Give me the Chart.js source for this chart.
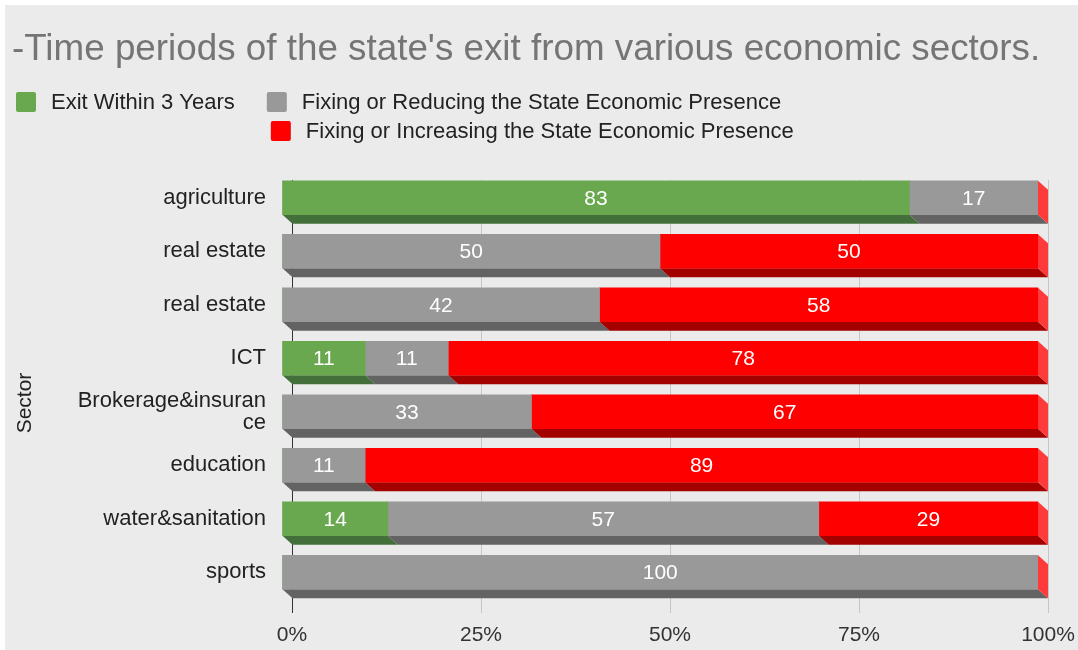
<!DOCTYPE html>
<html>
<head>
<meta charset="utf-8">
<script src="https://cdn.jsdelivr.net/npm/chart.js@4/dist/chart.umd.min.js"></script>
<style>
  html, body { margin: 0; padding: 0; background: #ffffff; overflow: hidden; }
  #wrap { width: 1078px; height: 650px; }
  canvas { display: block; }
</style>
</head>
<body>
<div id="wrap"><canvas id="c" width="1078" height="650"></canvas></div>
<script>
// ---- data ----
const titleText = "-Time periods of the state's exit from various economic sectors.";
const categories = ['agriculture', 'real estate', 'real estate', 'ICT', ['Brokerage&insuran', 'ce'], 'education', 'water&sanitation', 'sports'];
const seriesNames = ['Exit Within 3 Years', 'Fixing or Reducing the State Economic Presence', 'Fixing or Increasing the State Economic Presence'];
const exitWithin3 = [83, 0, 0, 11, 0, 0, 14, 0];
const fixingReducing = [17, 50, 42, 11, 33, 11, 57, 100];
const fixingIncreasing = [0, 50, 58, 78, 67, 89, 29, 0];
const xTickValues = [0, 25, 50, 75, 100];
const yAxisTitle = 'Sector';

// ---- styles ----
const frontColors = ['#6aa84f', '#999999', '#ff0000'];
const bottomColors = ['#43703a', '#636363', '#a30000'];
const sideColors = ['#8cc473', '#b5b5b5', '#ff3a3a'];
const DX = 10, DY = 9;
const FONT = '"Liberation Sans", Arial, sans-serif';

const bgPlugin = {
  id: 'bg',
  beforeDraw(chart) {
    const ctx = chart.ctx;
    ctx.save();
    ctx.fillStyle = '#ffffff';
    ctx.fillRect(0, 0, chart.width, chart.height);
    ctx.fillStyle = '#ebebeb';
    ctx.fillRect(5, 5, chart.width - 5, chart.height - 5);
    ctx.restore();
  }
};

const depthPlugin = {
  id: 'depth',
  beforeDatasetsDraw(chart) {
    const ctx = chart.ctx;
    const n = chart.data.datasets.length;
    ctx.save();
    for (let d = 0; d < n; d++) {
      const meta = chart.getDatasetMeta(d);
      meta.data.forEach((el, i) => {
        const v = chart.data.datasets[d].data[i];
        if (!v) return;
        const p = el.getProps(['x', 'y', 'base', 'height'], true);
        const xl = Math.min(p.x, p.base), xr = Math.max(p.x, p.base);
        const yb = p.y + p.height / 2;
        ctx.fillStyle = bottomColors[d];
        ctx.beginPath();
        ctx.moveTo(xl - DX, yb - DY);
        ctx.lineTo(xr - DX, yb - DY);
        ctx.lineTo(xr, yb);
        ctx.lineTo(xl, yb);
        ctx.closePath();
        ctx.fill();
      });
    }
    const lastMeta = chart.getDatasetMeta(n - 1);
    lastMeta.data.forEach((el) => {
      const p = el.getProps(['x', 'y', 'base', 'height'], true);
      const xr = Math.max(p.x, p.base);
      const yt = p.y - p.height / 2, yb = p.y + p.height / 2;
      ctx.fillStyle = sideColors[n - 1];
      ctx.beginPath();
      ctx.moveTo(xr - DX, yt - DY);
      ctx.lineTo(xr, yt);
      ctx.lineTo(xr, yb);
      ctx.lineTo(xr - DX, yb - DY);
      ctx.closePath();
      ctx.fill();
    });
    ctx.restore();
    ctx.save();
    ctx.translate(-DX, -DY);
  },
  afterDatasetsDraw(chart) {
    const ctx = chart.ctx;
    ctx.restore();
    ctx.save();
    ctx.fillStyle = '#ffffff';
    ctx.font = '21px ' + FONT;
    ctx.textAlign = 'center';
    ctx.textBaseline = 'middle';
    chart.data.datasets.forEach((ds, d) => {
      const meta = chart.getDatasetMeta(d);
      meta.data.forEach((el, i) => {
        const v = ds.data[i];
        if (!v) return;
        const p = el.getProps(['x', 'y', 'base'], true);
        ctx.fillText(String(v), (p.x + p.base) / 2 - DX, p.y - DY + 1);
      });
    });
    ctx.restore();
  }
};

const legendPlugin = {
  id: 'customLegend',
  afterDraw(chart) {
    const ctx = chart.ctx;
    const ds = chart.data.datasets;
    ctx.save();
    ctx.font = '22px ' + FONT;
    ctx.textBaseline = 'middle';
    ctx.textAlign = 'left';
    const box = 20, gap = 15;
    const drawItem = (i, x, y) => {
      ctx.fillStyle = ds[i].backgroundColor;
      ctx.beginPath();
      ctx.roundRect(x, y - box / 2, box, box, 2);
      ctx.fill();
      ctx.fillStyle = '#222222';
      ctx.fillText(ds[i].label, x + box + gap, y + 1);
      return x + box + gap + ctx.measureText(ds[i].label).width;
    };
    const row1 = 102, row2 = 131;
    const end1 = drawItem(0, 16, row1);
    const x2 = end1 + 32;
    drawItem(1, x2, row1);
    drawItem(2, x2 + 4, row2);

    // y-axis title
    const ca = chart.chartArea;
    ctx.translate(25, (ca.top + ca.bottom) / 2 + 9);
    ctx.rotate(-Math.PI / 2);
    ctx.font = '21px ' + FONT;
    ctx.textAlign = 'center';
    ctx.fillStyle = '#222222';
    ctx.fillText(yAxisTitle, 0, 0);
    ctx.restore();
  }
};

const datasets = [exitWithin3, fixingReducing, fixingIncreasing].map((arr, d) => ({
  label: seriesNames[d],
  data: arr,
  backgroundColor: frontColors[d],
  borderWidth: 0,
  barThickness: 34
}));

new Chart(document.getElementById('c'), {
  type: 'bar',
  data: { labels: categories, datasets },
  plugins: [bgPlugin, depthPlugin, legendPlugin],
  options: {
    indexAxis: 'y',
    responsive: false,
    animation: false,
    layout: { padding: { left: 12, right: 30, top: 0, bottom: 4 } },
    plugins: {
      legend: { display: false },
      tooltip: { enabled: false },
      title: {
        display: true,
        text: titleText,
        align: 'start',
        color: '#757575',
        font: { family: FONT, size: 36.8, weight: 'normal' },
        padding: { top: 28, bottom: 107.8 }
      }
    },
    scales: {
      x: {
        stacked: true,
        min: 0,
        max: 100,
        afterBuildTicks(scale) { scale.ticks = xTickValues.map(v => ({ value: v })); },
        afterFit(scale) { scale.height = 38; scale.paddingRight = 0; scale.paddingLeft = 0; },
        ticks: {
          callback: v => v + '%',
          color: '#333333',
          font: { family: FONT, size: 21 },
          padding: 10,
          maxRotation: 0
        },
        grid: {
          color: c => (c.tick && c.tick.value === 0) ? '#333333' : '#c6c6c6',
          lineWidth: 1,
          tickLength: 5,
          drawTicks: true
        },
        border: { display: false }
      },
      y: {
        stacked: true,
        afterFit(scale) { scale.width = 280; },
        ticks: {
          color: '#222222',
          font: { family: FONT, size: 22, lineHeight: 1.0 },
          padding: 26,
          labelOffset: -9
        },
        grid: { display: false, drawTicks: false },
        border: { display: false },
        title: { display: false }
      }
    }
  }
});
</script>
</body>
</html>
